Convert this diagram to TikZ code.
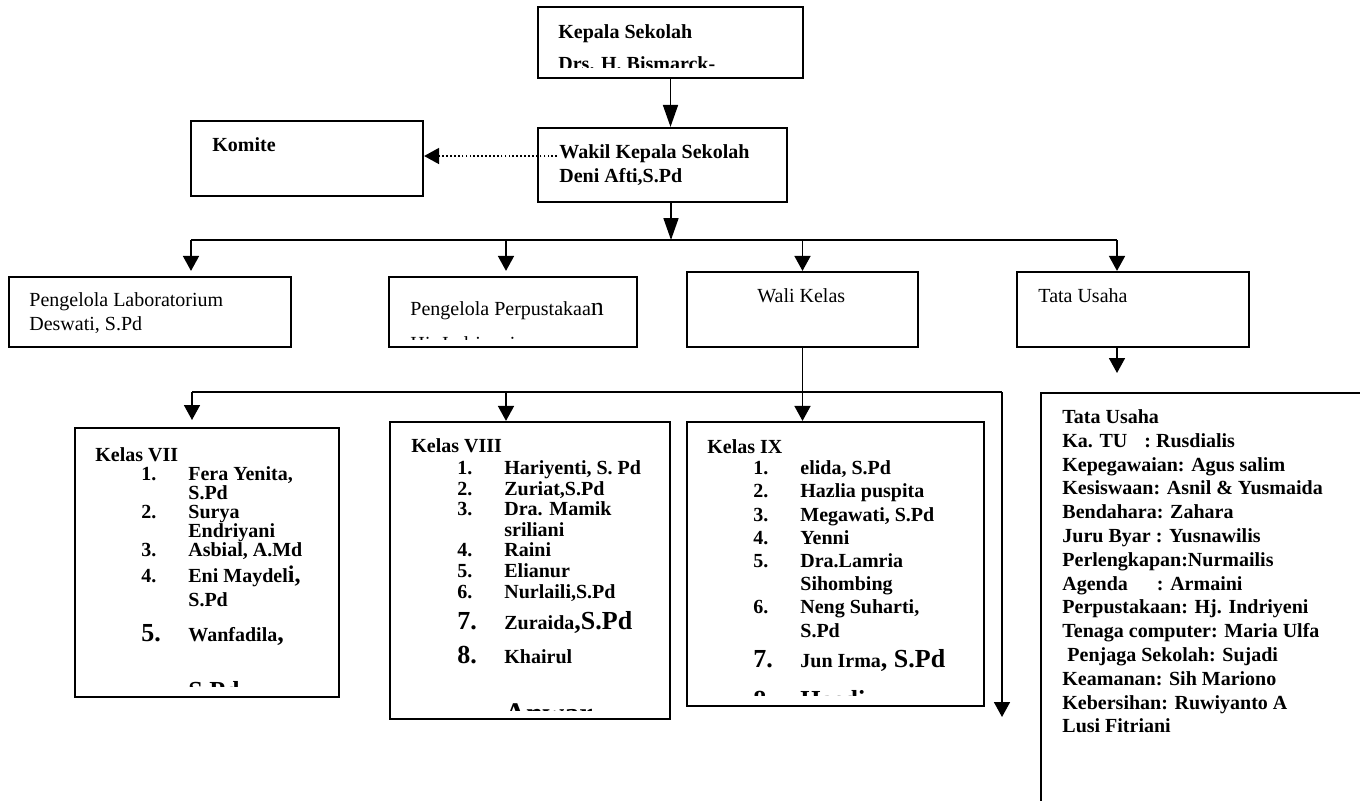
\documentclass[tikz,border=0pt]{standalone}
\usepackage{fontspec}
\setmainfont{Liberation Serif}
\usetikzlibrary{arrows.meta}

\newcommand{\strt}{\rule{0pt}{7pt}}
\newcommand{\lrg}[1]{{\fontsize{13}{13}\selectfont #1}}
\newcommand{\nm}[2]{\hspace*{23pt}\makebox[23.5pt][l]{#1}#2}
\newcommand{\cn}[1]{\hspace*{46.5pt}#1}

\tikzset{
	box/.style={draw, rectangle, line width=1.1pt, inner sep=0pt},
	link/.style={line width=0.85pt},
	arr/.style={link, -{Triangle[length=7.5pt, width=8pt]}},
	longarr/.style={link, -{Triangle[length=11pt, width=7.5pt]}},
	txt/.style={anchor=north west, inner sep=0pt, align=left,
		font={\fontsize{10}{12}\selectfont\lineskiplimit=-20pt}},
	bold/.style={txt, font={\bfseries\fontsize{10}{12}\selectfont\lineskiplimit=-20pt}},
}

\begin{document}
\begin{tikzpicture}[x=0.5pt, y=-0.5pt]

	\clip (0,0) rectangle (1360,800);

	% boxes
	\node[box, minimum width=132.5pt, minimum height=35.5pt] (Kepala) at (670.5,42.5) {};
	\node[box, minimum width=124.5pt, minimum height=37pt] (Wakil) at (662.5,165) {};
	\node[box, minimum width=116pt, minimum height=37.5pt] (Komite) at (307,158.5) {};
	\node[box, minimum width=141pt, minimum height=35pt] (Lab) at (150,312) {};
	\node[box, minimum width=124pt, minimum height=35pt] (Perpus) at (513,312) {};
	\node[box, minimum width=115.5pt, minimum height=37.5pt] (Wali) at (802.5,309.5) {};
	\node[box, minimum width=116pt, minimum height=37.5pt] (TataUsaha) at (1133,309.5) {};
	\node[box, minimum width=132pt, minimum height=134.5pt] (KelasVII) at (207,562.5) {};
	\node[box, minimum width=140pt, minimum height=148.5pt] (KelasVIII) at (530,570.5) {};
	\node[box, minimum width=148.5pt, minimum height=142pt] (KelasIX) at (835.5,564) {};
	\node[box, minimum width=164.5pt, minimum height=208.5pt] (Rincian) at (1205.5,601.5) {};

	% texts
	\begin{scope}
		\clip (538,7) rectangle (803,67);
		\node[bold, font={\bfseries\fontsize{10}{16}\selectfont}] (tKepala) at (558,24)
			{\strt Kepala Sekolah\\Drs. H. Bismarck-};
	\end{scope}
	\node[bold] (tWakil) at (559,144) {\strt Wakil Kepala Sekolah\\Deni Afti,S.Pd};
	\node[bold] (tKomite) at (212,137) {\strt Komite};
	\node[txt] (tLab) at (29,292) {\strt Pengelola Laboratorium\\Deswati, S.Pd};
	\begin{scope}
		\clip (389,277) rectangle (637,339);
		\node[txt] (tPerpus) at (410,301)
			{\strt Pengelola Perpustakaa\lrg{n}\\[5.5pt]Hj. Indriyeni};
	\end{scope}
	\node[txt] (tWali) at (757,288) {\strt Wali Kelas};
	\node[txt] (tTU) at (1038,288) {\strt Tata Usaha};

	\begin{scope}
		\clip (75,428) rectangle (339,686);
		\node[bold, font={\bfseries\fontsize{10}{9.5}\selectfont\lineskiplimit=-20pt}] (tVII) at (95,447)
			{\strt Kelas VII\\
			\nm{1.}{Fera Yenita,}\\
			\cn{S.Pd}\\
			\nm{2.}{Surya}\\
			\cn{Endriyani}\\
			\nm{3.}{Asbial, A.Md}\\[3.5pt]
			\nm{4.}{Eni Maydel{\fontsize{12}{12}\selectfont i,}}\\[2.5pt]
			\cn{S.Pd}\\[8pt]
			\nm{\lrg{5.}}{Wanfadila\lrg{,}}\\[19.5pt]
			\cn{\lrg{S.Pd}}};
	\end{scope}

	\begin{scope}
		\clip (390,422) rectangle (670,710);
		\node[bold, font={\bfseries\fontsize{10}{10.3}\selectfont\lineskiplimit=-20pt}] (tVIII) at (411,438)
			{\strt Kelas VIII\\[0.7pt]
			\nm{1.}{Hariyenti, S. Pd}\\
			\nm{2.}{Zuriat,S.Pd}\\
			\nm{3.}{Dra. Mamik}\\
			\cn{sriliani}\\
			\nm{4.}{Raini}\\
			\nm{5.}{Elianur}\\
			\nm{6.}{Nurlaili,S.Pd}\\[5.2pt]
			\nm{\lrg{7.}}{Zuraida\lrg{,S.Pd}}\\[6.7pt]
			\nm{\lrg{8.}}{Khairul}\\[19.7pt]
			\cn{{\fontsize{15}{15}\selectfont Anwar}}};
	\end{scope}

	\begin{scope}
		\clip (687,422) rectangle (984,695);
		\node[bold, font={\bfseries\fontsize{10}{11.6}\selectfont\lineskiplimit=-20pt}] (tIX) at (707,439)
			{\strt Kelas IX\\[-1pt]
			\nm{1.}{elida, S.Pd}\\
			\nm{2.}{Hazlia puspita}\\
			\nm{3.}{Megawati, S.Pd}\\
			\nm{4.}{Yenni}\\
			\nm{5.}{Dra.Lamria}\\
			\cn{Sihombing}\\
			\nm{6.}{Neng Suharti,}\\
			\cn{S.Pd}\\[3.4pt]
			\nm{\lrg{7.}}{Jun Irma\lrg{, S.Pd}}\\[9pt]
			\nm{\lrg{8.}}{\lrg{Hasdi}}};
	\end{scope}

	\node[bold, font={\bfseries\fontsize{10}{11.9}\selectfont}] (tRincian) at (1062,409)
		{\strt Tata Usaha\\
		Ka. TU\hspace{8.5pt}: Rusdialis\\
		Kepegawaian: Agus salim\\
		Kesiswaan: Asnil \& Yusmaida\\
		Bendahara: Zahara\\
		Juru Byar : Yusnawilis\\
		Perlengkapan:Nurmailis\\
		Agenda\hspace{14.5pt}: Armaini\\
		Perpustakaan: Hj. Indriyeni\\
		Tenaga computer: Maria Ulfa\\
		\hspace*{2.5pt}Penjaga Sekolah: Sujadi\\
		Keamanan: Sih Mariono\\
		Kebersihan: Ruwiyanto A\\
		Lusi Fitriani};

	% connectors
	\coordinate (dotstart) at (557,156);
	\coordinate (hubTop) at (671,240);
	\coordinate (hubL) at (191,240);
	\coordinate (hubP) at (506,240);
	\coordinate (hubW) at (802.5,240);
	\coordinate (hubT) at (1117,240);
	\coordinate (kls) at (802.5,392);
	\coordinate (klsL) at (192,392);
	\coordinate (klsP) at (506,392);
	\coordinate (klsR) at (1002,392);
	\coordinate (klsLend) at (192,420);
	\coordinate (klsRend) at (1002,717);
	\coordinate (tuend) at (1117,373);

	\draw[longarr] (Kepala.south) -- (Kepala.south |- Wakil.north);
	\draw[arr, dash pattern=on 0.85pt off 1.1pt] (dotstart) -- (dotstart -| Komite.east);
	\draw[longarr] (hubTop |- Wakil.south) -- (hubTop);
	\draw[link] (hubL) -- (hubT);
	\draw[arr] (hubL) -- (hubL |- Wali.north);
	\draw[arr] (hubP) -- (hubP |- Wali.north);
	\draw[arr] (hubW) -- (Wali.north);
	\draw[arr] (hubT) -- (hubT |- TataUsaha.north);
	\draw[arr] (tuend |- TataUsaha.south) -- (tuend);

	\draw[link] (Wali.south) -- (kls);
	\draw[link] (klsL) -- (klsR);
	\draw[arr] (klsL) -- (klsLend);
	\draw[arr] (klsP) -- (klsP |- KelasVIII.north);
	\draw[arr] (kls) -- (kls |- KelasIX.north);
	\draw[arr] (klsR) -- (klsRend);

\end{tikzpicture}
\end{document}
